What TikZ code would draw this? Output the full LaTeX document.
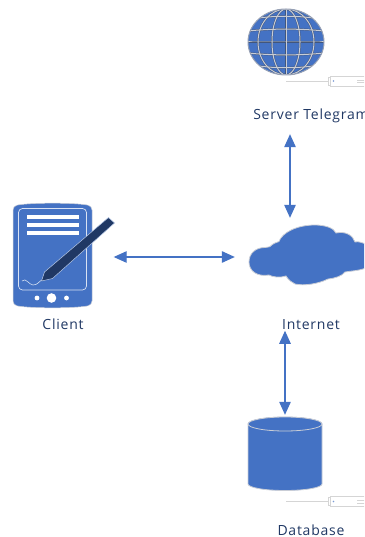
\documentclass[tikz,border=0pt]{standalone}
\usepackage{fontspec}
\setmainfont[LetterSpace=5.5]{Open Sans}
\usetikzlibrary{arrows.meta,shapes.geometric}
\definecolor{blu}{HTML}{4472C4}
\definecolor{darkblu}{HTML}{203864}
\definecolor{edge}{HTML}{C9CDD6}
\definecolor{wid}{HTML}{D5D5D5}
\tikzset{
  lab/.style={text=darkblu,font=\fontsize{14}{16}\selectfont,inner sep=0pt,anchor=center},
  link/.style={draw=blu,line width=1.2pt,{Triangle[length=13pt,width=11.5pt]}-{Triangle[length=13pt,width=11.5pt]}},
  box/.style={inner sep=0pt,draw=none,fill=none},
  widget/.style={draw=wid,line width=0.8pt,fill=white},
}
\newcommand{\minwidget}[2]{%
  \draw[wid,line width=0.8pt] (#1-42,#2) -- (#1,#2);
  \draw[widget] (#1,#2-4) rectangle (#1+2,#2+4);
  \draw[widget] (#1+2,#2-5) rectangle (#1+60,#2+5);
  \fill[blu!70] (#1+5.5,#2) circle (0.9);
  \draw[wid,line width=0.6pt] (#1+29,#2-1) -- (#1+40,#2-1) (#1+29,#2+1.5) -- (#1+40,#2+1.5);
}
\begin{document}
\begin{tikzpicture}[x=1pt,y=-1pt]
\useasboundingbox (0,0) rectangle (364,537);
\clip (0,0) rectangle (364,537);
% globe
\node[box,ellipse,minimum width=76pt,minimum height=66pt] (globe) at (286,42) {};
\begin{scope}
  \clip (286,42) ellipse [x radius=38,y radius=33];
  \fill[blu] (248,9) rectangle (324,75);
  \foreach \c/\w in {darkblu!85/1.9,edge/1.0}{
    \foreach \r in {14,28}{
      \draw[\c,line width=\w pt] (286,42) ellipse [x radius=\r,y radius=33];
    }
    \draw[\c,line width=\w pt] (286,9) -- (286,75);
    \foreach \yy/\b in {20/-5,31/-2.5,42/0,53/2.5,64/5}{
      \draw[\c,line width=\w pt] (248,\yy) .. controls (270,\yy+\b) and (302,\yy+\b) .. (324,\yy);
    }
  }
\end{scope}
\draw[edge!70!darkblu,line width=1pt] (286,42) ellipse [x radius=38,y radius=33];
\minwidget{328}{81}
\node[lab] (server) at (311,116) {Server Telegram};
% tablet
\node[box,minimum width=79pt,minimum height=105pt] (client) at (52.5,255.5) {};
\fill[blu,draw=edge,line width=0.5pt,rounded corners=4pt]
  (13,206) .. controls (30,202.5) and (75,202.5) .. (92,206) -- (92,305) .. controls (75,308.5) and (30,308.5) .. (13,305) -- cycle;
\draw[white,line width=0.7pt,rounded corners=4pt,opacity=.8] (18.5,208.5) rectangle (86.5,290);
\foreach \yy in {216.5,224.5,232.5}{\fill[white] (27,\yy-2) rectangle (79,\yy+2);}
\fill[white] (37,298) circle (2.4) (51.5,298) circle (4.8) (66.5,298) circle (2.4);
\draw[white!75!blu,line width=0.6pt] (22,281) .. controls (26,277) and (29,285) .. (33,285) .. controls (38,285) and (39,281) .. (42,280);
\fill[darkblu,draw=white!60!blu,line width=0.5pt,line join=round]
  (41.5,281) -- (44.5,272) -- (108.5,217.5) -- (114.5,223) -- (52.5,278.5) -- cycle;
\node[lab] (clientlab) at (63,324.5) {Client};
% cloud
\node[box,minimum width=114pt,minimum height=62pt] (cloud) at (307,255) {};
\fill[blu,draw=edge,line width=0.8pt]
  (249,262) .. controls (249,253) and (256,247.5) .. (265,247.5)
  .. controls (268,247.5) and (270,246.5) .. (270,246.5)
  .. controls (273,243.5) and (276,242.5) .. (279,241.5)
  .. controls (282,233) and (296,225) .. (315,225)
  .. controls (325,225) and (334,228) .. (336,233)
  .. controls (345,231) and (353,235) .. (355,242)
  .. controls (359,241) and (362,243) .. (366,244)
  -- (366,268)
  .. controls (358,271) and (350,271) .. (345,272)
  .. controls (342,276) and (336,278) .. (328,279)
  .. controls (318,284) and (304,286) .. (295,284)
  .. controls (292,282) and (289,281) .. (286,276)
  .. controls (280,278) and (272,277) .. (269,275)
  .. controls (257,277) and (249,271) .. (249,262) -- cycle;
\node[lab] (internet) at (311,324.5) {Internet};
% database
\node[box,minimum width=74pt,minimum height=73pt] (db) at (285,453.5) {};
\fill[blu,draw=edge,line width=0.8pt] (248,424) arc[start angle=180,end angle=360,x radius=37,y radius=7] -- (322,484) arc[start angle=0,end angle=180,x radius=37,y radius=6.5] -- cycle;
\draw[edge,line width=0.8pt,fill=blu] (285,424) ellipse [x radius=37,y radius=7];
\minwidget{328}{501.5}
\node[lab] (dblab) at (311,530) {Database};
% links
\draw[link] ([xshift=-21pt,yshift=-11pt]server.south) -- ([xshift=-17pt,yshift=6pt]cloud.north);
\draw[link] ([xshift=21.5pt,yshift=-1.5pt]client.east) -- ([xshift=-15pt,yshift=-2pt]cloud.west);
\draw[link] ([xshift=-26pt,yshift=-1pt]internet.south) -- ([yshift=2pt]db.north);
\end{tikzpicture}
\end{document}
